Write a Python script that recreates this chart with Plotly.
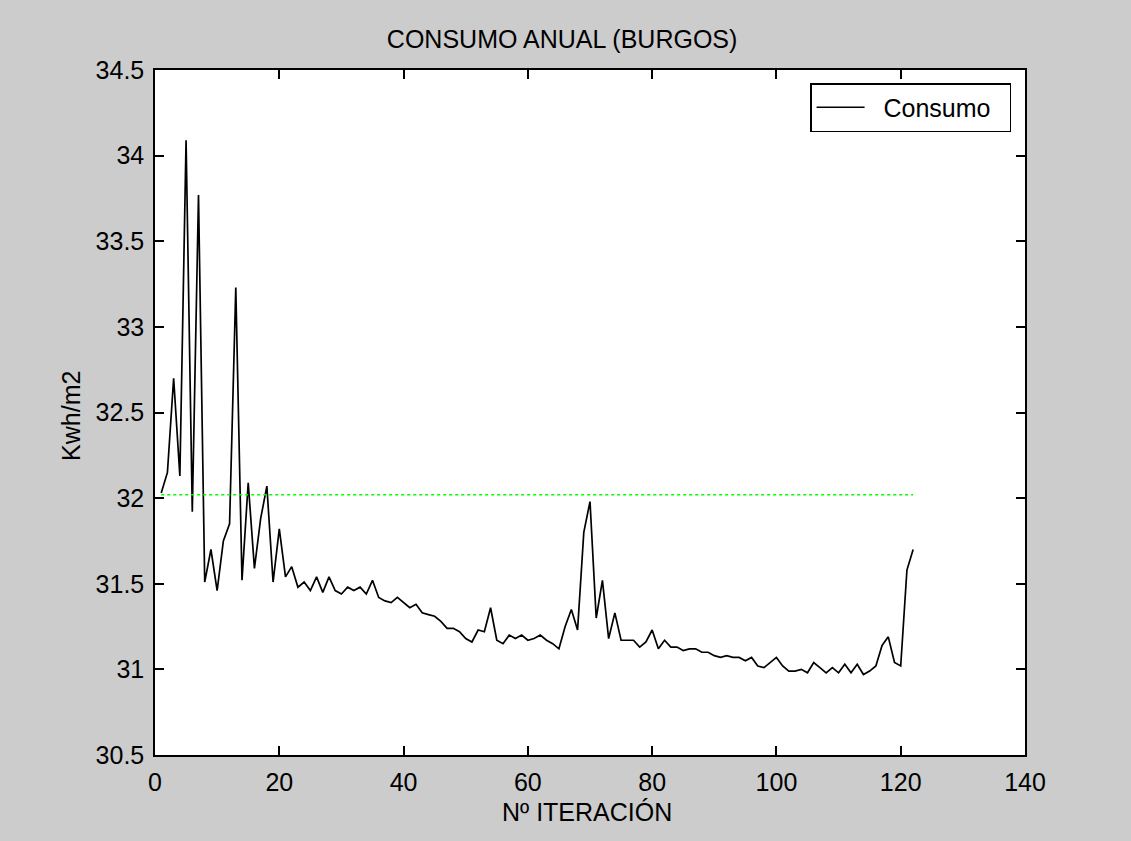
import plotly.graph_objects as go

iterations = list(range(1, 123))
consumo = [
    32.03, 32.15, 32.70, 32.13, 34.09, 31.92, 33.77, 31.51, 31.70, 31.46,
    31.75, 31.85, 33.23, 31.52, 32.09, 31.59, 31.88, 32.07, 31.51, 31.82,
    31.54, 31.60, 31.48, 31.51, 31.46, 31.54, 31.45, 31.54, 31.46, 31.44,
    31.48, 31.46, 31.48, 31.44, 31.52, 31.42, 31.40, 31.39, 31.42, 31.39,
    31.36, 31.38, 31.33, 31.32, 31.31, 31.28, 31.24, 31.24, 31.22, 31.18,
    31.16, 31.23, 31.22, 31.36, 31.17, 31.15, 31.20, 31.18, 31.20, 31.17,
    31.18, 31.20, 31.17, 31.15, 31.12, 31.25, 31.35, 31.23, 31.80, 31.98,
    31.30, 31.52, 31.18, 31.33, 31.17, 31.17, 31.17, 31.13, 31.16, 31.23,
    31.12, 31.17, 31.13, 31.13, 31.11, 31.12, 31.12, 31.10, 31.10, 31.08,
    31.07, 31.08, 31.07, 31.07, 31.05, 31.07, 31.02, 31.01, 31.04, 31.07,
    31.02, 30.99, 30.99, 31.00, 30.98, 31.04, 31.01, 30.98, 31.01, 30.98,
    31.03, 30.98, 31.03, 30.97, 30.99, 31.02, 31.14, 31.19, 31.04, 31.02,
    31.58, 31.70,
]
ref_x = [1, 122]
ref_y = [32.02, 32.02]

x_ticks = [0, 20, 40, 60, 80, 100, 120, 140]
y_ticks = [30.5, 31, 31.5, 32, 32.5, 33, 33.5, 34, 34.5]

FONT = "Liberation Sans, Arial, sans-serif"
FS = 25

fig = go.Figure()
fig.add_trace(go.Scatter(
    x=iterations, y=consumo, mode="lines", name="\u00a0\u00a0Consumo\u00a0\u00a0",
    line=dict(color="black", width=1.7),
))
fig.add_trace(go.Scatter(
    x=ref_x, y=ref_y, mode="lines", showlegend=False,
    line=dict(color="#00ff00", width=1.5, dash="dot"),
))

axis_common = dict(
    showline=True, linecolor="black", linewidth=1.5, mirror="ticks",
    ticks="inside", ticklen=9, tickwidth=1.5, tickcolor="black",
    showgrid=False, zeroline=False,
    tickfont=dict(family=FONT, size=FS, color="black"),
)

fig.update_layout(
    width=1131, height=841,
    margin=dict(l=155, r=106, t=70, b=86),
    paper_bgcolor="#cccccc", plot_bgcolor="white",
    font=dict(family=FONT, size=FS, color="black"),
    title=dict(text="CONSUMO ANUAL (BURGOS)", x=0.497, xanchor="center",
               y=1 - 39 / 841, yref="container", yanchor="middle",
               font=dict(family=FONT, size=FS, color="black")),
    xaxis=dict(range=[0, 140], tickvals=x_ticks, ticklabelstandoff=4, **axis_common),
    yaxis=dict(range=[30.5, 34.5], tickvals=y_ticks, ticklabelstandoff=4, **axis_common),
    legend=dict(x=0.984, xanchor="right", y=0.981, yanchor="top",
                bgcolor="white", bordercolor="black", borderwidth=1.5,
                itemwidth=48,
                font=dict(family=FONT, size=FS, color="black")),
    showlegend=True,
    annotations=[
        dict(text="Nº ITERACIÓN", xref="paper", yref="paper", x=0.497, y=-0.083,
             xanchor="center", yanchor="middle", showarrow=False,
             font=dict(family=FONT, size=FS, color="black")),
        dict(text="Kwh/m2", xref="paper", yref="paper", x=-0.0966, y=0.495,
             xanchor="center", yanchor="middle", showarrow=False, textangle=-90,
             font=dict(family=FONT, size=FS, color="black")),
    ],
)

fig.write_html("out.html")
